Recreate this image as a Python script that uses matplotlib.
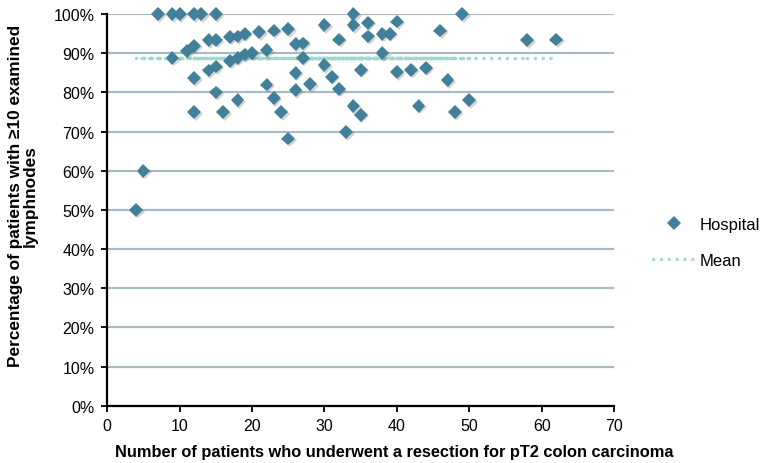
import matplotlib.pyplot as plt
import matplotlib.patheffects as pe
from matplotlib.collections import LineCollection
from matplotlib.lines import Line2D
from matplotlib.ticker import PercentFormatter

plt.rcParams['font.family'] = ['Liberation Sans', 'DejaVu Sans']

# patients operated per hospital and % with >=10 examined lymph nodes
hospital_n = [7, 9, 10, 12, 13, 15, 34, 49, 4,
              9, 11, 12, 14, 15, 17, 18, 19, 21, 23,
              12, 14, 15, 17, 18, 19, 20, 22,
              15, 18, 12, 16, 22, 23, 24,
              25, 30, 34, 36, 40, 46,
              32, 36, 38, 39,
              26, 27, 27, 38,
              30, 35, 40, 42, 44, 47, 5,
              26, 31, 28, 32, 26,
              34, 35, 43, 48, 50,
              33, 25, 58, 62]
hospital_pct = [100, 100, 100, 100, 100, 100, 100, 100, 50.0,
                88.8, 90.6, 91.9, 93.3, 93.4, 94.2, 94.3, 95.0, 95.4, 95.8,
                83.6, 85.6, 86.6, 88.1, 88.8, 89.7, 90.1, 90.8,
                80.0, 78.0, 75.0, 75.0, 82.0, 78.5, 75.0,
                96.1, 97.2, 97.2, 97.8, 98.1, 95.8,
                93.5, 94.3, 95.0, 95.0,
                92.4, 92.5, 88.8, 90.0,
                87.0, 85.8, 85.2, 85.8, 86.3, 83.1, 60.0,
                85.0, 84.0, 82.1, 80.9, 80.6,
                76.5, 74.3, 76.6, 75.0, 78.0,
                69.8, 68.2, 93.3, 93.5]
mean_pct = 88.8

x_ticks = [0, 10, 20, 30, 40, 50, 60, 70]
y_ticks = [0, 10, 20, 30, 40, 50, 60, 70, 80, 90, 100]

diamond_color = '#417f9a'
mean_color = '#9fd9cb'
grid_color = '#a9bcc6'

fig = plt.figure(figsize=(7.66, 4.64), dpi=100)
fig.patch.set_facecolor('white')
ax = fig.add_axes([0.140, 0.1235, 0.6617, 0.844])

ax.set_xlim(0, 70)
ax.set_ylim(0, 100)
ax.set_xticks(x_ticks)
ax.set_yticks(y_ticks)
ax.yaxis.set_major_formatter(PercentFormatter(decimals=0))
ax.tick_params(axis='both', direction='out', length=4, width=1.3,
               labelsize=11.5, colors='black', pad=5)

for s in ['top', 'right']:
    ax.spines[s].set_visible(False)
for s in ['left', 'bottom']:
    ax.spines[s].set_linewidth(1.6)
ax.grid(axis='y', color=grid_color, linewidth=1.6)
ax.set_axisbelow(True)

# mean series: one dotted segment between consecutive hospitals
segs = [[(hospital_n[i], mean_pct), (hospital_n[i + 1], mean_pct)]
        for i in range(len(hospital_n) - 1)]
lc = LineCollection(segs, colors=mean_color, linewidths=2.5,
                    linestyles=[(0, (0.05, 2.2))], capstyle='round', zorder=2)
ax.add_collection(lc)

ax.plot(hospital_n, hospital_pct, linestyle='none', marker='D', markersize=7,
        color=diamond_color, markeredgewidth=0, clip_on=False, zorder=3,
        path_effects=[pe.SimplePatchShadow(offset=(1.2, -1.2), alpha=0.25, shadow_rgbFace='#555555'),
                      pe.Normal()])

ax.set_xlabel('Number of patients who underwent a resection for pT2 colon carcinoma',
              fontsize=11.8, fontweight='bold')
ax.xaxis.set_label_coords(0.567, -0.098)
fig.text(0.030, 0.578, 'Percentage of patients with \u226510 examined\nlymphnodes',
         rotation=90, ha='center', va='center', multialignment='center',
         fontsize=12.4, fontweight='bold', linespacing=1.0)

handles = [Line2D([], [], linestyle='none', marker='D', markersize=7,
                  color=diamond_color, markeredgewidth=0),
           Line2D([], [], color=mean_color, linewidth=2.4,
                  linestyle=(0, (0.05, 2.3)), dash_capstyle='round')]
ax.legend(handles, ['Hospital', 'Mean'], loc='center left',
          bbox_to_anchor=(1.047, 0.417), frameon=False, fontsize=12,
          handlelength=2.5, labelspacing=1.3, handletextpad=0.3)

fig.savefig('out.png', dpi=100)
